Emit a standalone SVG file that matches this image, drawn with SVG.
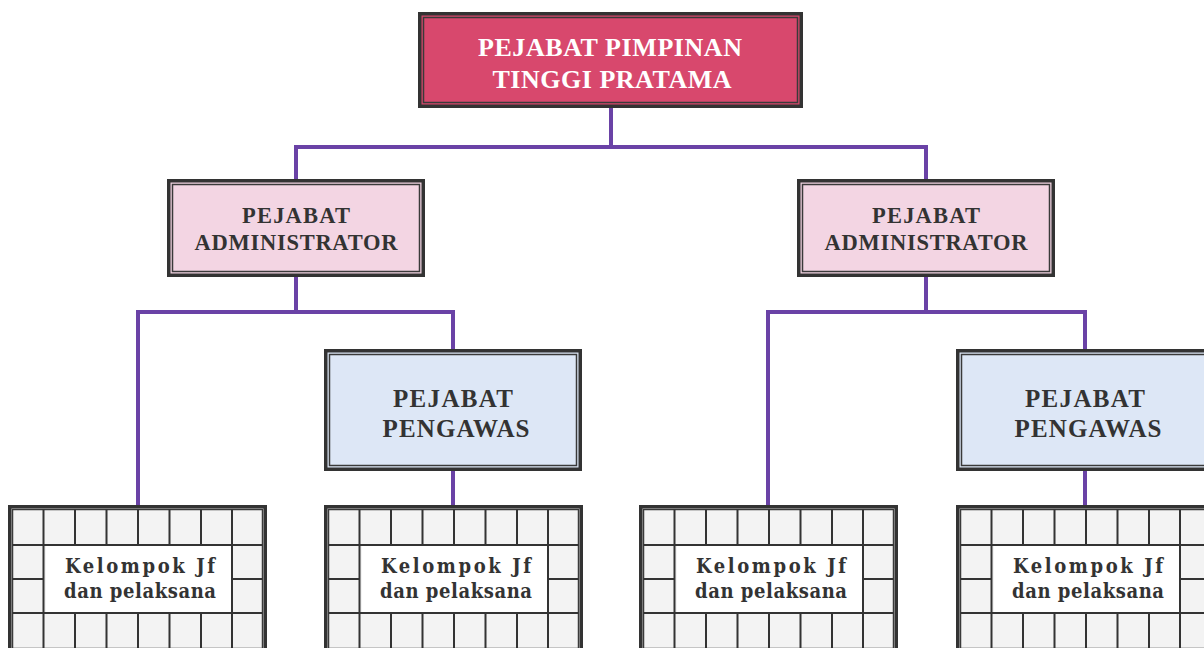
<svg xmlns="http://www.w3.org/2000/svg" width="1204" height="648" viewBox="0 0 1204 648">
  <style>
    .outer { fill: none; stroke: #333333; stroke-width: 3.5; }
    .inner { fill: none; stroke: #3a3a3a; stroke-width: 1.5; }
    .head { font-family: "Liberation Serif", "Times New Roman", serif; font-weight: bold; text-anchor: middle; }
    .head-top { fill: #ffffff; font-size: 26px; }
    .head-dark { fill: #333333; }
    .unit { font-family: "DejaVu Serif Condensed", "DejaVu Serif", serif; font-stretch: condensed; font-weight: bold; font-size: 20px; fill: #333333; text-anchor: middle; }
    .link { fill: none; stroke: #6a42a6; stroke-width: 4; stroke-linejoin: miter; }
    .grid { stroke: #333333; stroke-width: 2; fill: none; }
  </style>
  <defs>
    <!-- tiled frame used by each work-group box; origin at the outer top-left corner -->
    <g id="tile-frame">
      <rect x="0" y="0" width="259" height="148" fill="#f3f3f3"/>
      <rect x="38" y="40" width="186" height="68" fill="#ffffff"/>
      <rect x="1.75" y="1.75" width="255.5" height="144.5" class="outer"/>
      <rect x="4.5" y="4.5" width="250" height="139" class="inner"/>
      <!-- horizontal rows -->
      <line x1="4.5" y1="40" x2="254.5" y2="40" class="grid"/>
      <line x1="4.5" y1="108" x2="254.5" y2="108" class="grid"/>
      <line x1="4.5" y1="74" x2="35.5" y2="74" class="grid"/>
      <line x1="224" y1="74" x2="254.5" y2="74" class="grid"/>
      <!-- full-height outer columns -->
      <line x1="35.5" y1="4.5" x2="35.5" y2="143.5" class="grid"/>
      <line x1="224" y1="4.5" x2="224" y2="143.5" class="grid"/>
      <!-- top and bottom row columns -->
      <path class="grid" d="M67 4.5V40M98.5 4.5V40M130 4.5V40M161.5 4.5V40M193 4.5V40
                            M67 108V143.5M98.5 108V143.5M130 108V143.5M161.5 108V143.5M193 108V143.5"/>
    </g>
  </defs>

  <rect width="1204" height="648" fill="#ffffff"/>

  <!-- connectors -->
  <g id="connectors">
    <path class="link" d="M611 108V147M296 179V147H926V179"/>
    <path class="link" d="M296 277V312M138 505V312H453V349"/>
    <path class="link" d="M453 471V505"/>
    <path class="link" d="M926 277V312M768 505V312H1085V349"/>
    <path class="link" d="M1085 471V505"/>
  </g>

  <!-- top level -->
  <g id="pimpinan">
    <rect x="418" y="12" width="385" height="96" fill="#d8486d"/>
    <rect x="419.75" y="13.75" width="381.5" height="92.5" class="outer"/>
    <rect x="423.5" y="17.5" width="374" height="85" class="inner"/>
    <text class="head head-top" x="610" y="56" textLength="264" lengthAdjust="spacing">PEJABAT PIMPINAN</text>
    <text class="head head-top" x="612" y="88" textLength="239" lengthAdjust="spacing">TINGGI PRATAMA</text>
  </g>

  <!-- administrators -->
  <g id="administrator-left">
    <rect x="167" y="179" width="258" height="98" fill="#f3d5e3"/>
    <rect x="168.75" y="180.75" width="254.5" height="94.5" class="outer"/>
    <rect x="172.5" y="184.5" width="247" height="87" class="inner"/>
    <text class="head head-dark" x="296" y="223" font-size="22.5" textLength="108" lengthAdjust="spacing">PEJABAT</text>
    <text class="head head-dark" x="296" y="250" font-size="22.5" textLength="203" lengthAdjust="spacing">ADMINISTRATOR</text>
  </g>
  <g id="administrator-right">
    <rect x="797" y="179" width="258" height="98" fill="#f3d5e3"/>
    <rect x="798.75" y="180.75" width="254.5" height="94.5" class="outer"/>
    <rect x="802.5" y="184.5" width="247" height="87" class="inner"/>
    <text class="head head-dark" x="926" y="223" font-size="22.5" textLength="108" lengthAdjust="spacing">PEJABAT</text>
    <text class="head head-dark" x="926" y="250" font-size="22.5" textLength="203" lengthAdjust="spacing">ADMINISTRATOR</text>
  </g>

  <!-- supervisors -->
  <g id="pengawas-left">
    <rect x="324" y="349" width="258" height="122" fill="#dde7f6"/>
    <rect x="325.75" y="350.75" width="254.5" height="118.5" class="outer"/>
    <rect x="329.5" y="354.5" width="247" height="111" class="inner"/>
    <text class="head head-dark" x="453" y="407" font-size="25" textLength="120" lengthAdjust="spacing">PEJABAT</text>
    <text class="head head-dark" x="456" y="437" font-size="25" textLength="147" lengthAdjust="spacing">PENGAWAS</text>
  </g>
  <g id="pengawas-right">
    <rect x="956" y="349" width="258" height="122" fill="#dde7f6"/>
    <rect x="957.75" y="350.75" width="254.5" height="118.5" class="outer"/>
    <rect x="961.5" y="354.5" width="247" height="111" class="inner"/>
    <text class="head head-dark" x="1085" y="407" font-size="25" textLength="120" lengthAdjust="spacing">PEJABAT</text>
    <text class="head head-dark" x="1088" y="437" font-size="25" textLength="147" lengthAdjust="spacing">PENGAWAS</text>
  </g>

  <!-- functional groups and staff -->
  <g id="kelompok-1">
    <use href="#tile-frame" x="8" y="505"/>
    <text class="unit" x="140" y="573" textLength="150" lengthAdjust="spacing">Kelompok Jf</text>
    <text class="unit" x="140" y="598" textLength="152" lengthAdjust="spacing">dan pelaksana</text>
  </g>
  <g id="kelompok-2">
    <use href="#tile-frame" x="324" y="505"/>
    <text class="unit" x="456" y="573" textLength="150" lengthAdjust="spacing">Kelompok Jf</text>
    <text class="unit" x="456" y="598" textLength="152" lengthAdjust="spacing">dan pelaksana</text>
  </g>
  <g id="kelompok-3">
    <use href="#tile-frame" x="639" y="505"/>
    <text class="unit" x="771" y="573" textLength="150" lengthAdjust="spacing">Kelompok Jf</text>
    <text class="unit" x="771" y="598" textLength="152" lengthAdjust="spacing">dan pelaksana</text>
  </g>
  <g id="kelompok-4">
    <use href="#tile-frame" x="956" y="505"/>
    <text class="unit" x="1088" y="573" textLength="150" lengthAdjust="spacing">Kelompok Jf</text>
    <text class="unit" x="1088" y="598" textLength="152" lengthAdjust="spacing">dan pelaksana</text>
  </g>
</svg>
